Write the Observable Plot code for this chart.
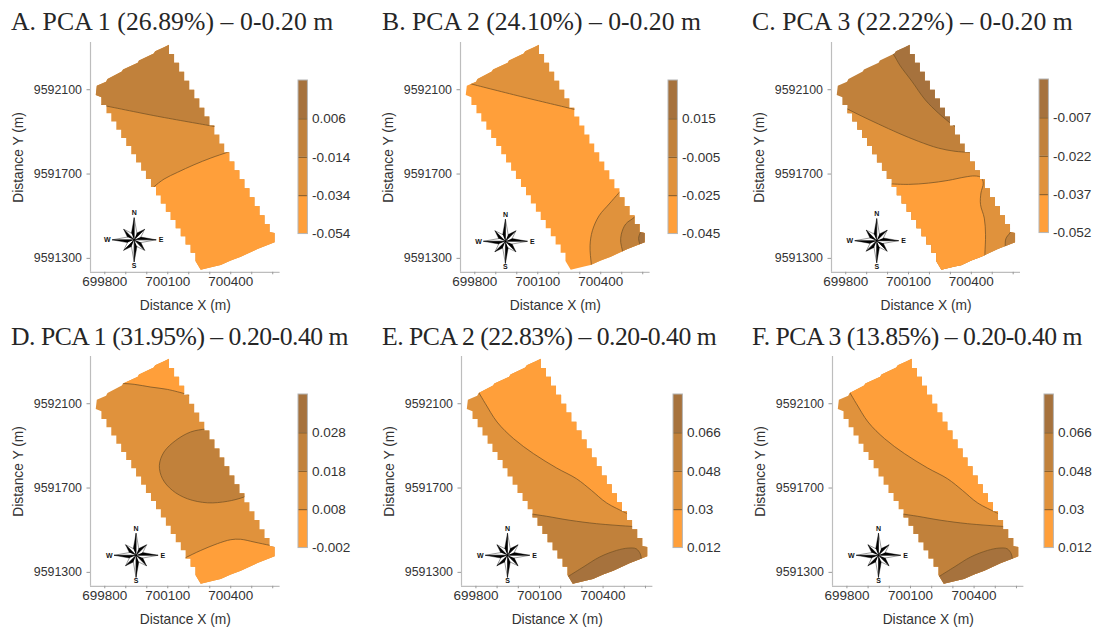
<!DOCTYPE html>
<html>
<head>
<meta charset="utf-8">
<script src="https://cdn.jsdelivr.net/npm/d3@7"></script>
<script src="https://cdn.jsdelivr.net/npm/@observablehq/plot@0.6"></script>
<style>
html,body{margin:0;padding:0;background:#fff}
#chart{position:relative;width:1094px;height:630px;overflow:hidden}
.ttl{position:absolute;font-family:"Liberation Serif",serif;font-size:25.7px;line-height:1;color:#262626;white-space:nowrap}
</style>
</head>
<body>
<div id="chart"></div>
<script>
const bandColors = ["#ff9f3a","#e0923c","#c1813b","#a6723d"];
const contourColor = "#7a5527";
const xDomain = [699732, 700635];
const yDomain = [9591234, 9592324];
const xTicks = [699800,699900,700000,700100,700200,700300,700400,700500,700600];
const xLabels = [699800,700100,700400];
const yTicks = [9591300,9591700,9592100];

const fieldOutline = [
[699762,9592119],[699806,9592138],[699813,9592151],[699881,9592186],[699887,9592196],[699957,9592228],[699963,9592239],[700033,9592272],[700040,9592283],[700082,9592301],[700106,9592313],
[700106,9592270],[700130,9592270],[700130,9592228],[700154,9592228],[700154,9592185],[700178,9592185],[700178,9592143],[700202,9592143],[700202,9592100],[700226,9592100],[700226,9592058],[700250,9592058],[700250,9592015],[700274,9592015],[700274,9591973],[700298,9591973],[700298,9591930],[700322,9591930],[700322,9591888],[700346,9591888],[700346,9591845],[700369,9591845],[700369,9591803],[700393,9591803],[700393,9591760],[700417,9591760],[700417,9591718],[700441,9591718],[700441,9591675],[700465,9591675],[700465,9591633],[700489,9591633],[700489,9591590],[700513,9591590],[700513,9591548],[700537,9591548],[700537,9591505],[700561,9591505],[700561,9591463],[700585,9591463],[700585,9591425],[700609,9591420],
[700609,9591376],[700527,9591344],[700448,9591308],[700400,9591290],[700352,9591268],[700321,9591262],[700257,9591246],
[700232,9591288],[700232,9591327],[700209,9591327],[700209,9591366],[700185,9591366],[700185,9591405],[700162,9591405],[700162,9591443],[700138,9591443],[700138,9591482],[700114,9591482],[700114,9591521],[700091,9591521],[700091,9591560],[700067,9591560],[700067,9591599],[700044,9591599],[700044,9591638],[700020,9591638],[700020,9591677],[699996,9591677],[699996,9591716],[699973,9591716],[699973,9591755],[699949,9591755],[699949,9591794],[699926,9591794],[699926,9591833],[699902,9591833],[699902,9591871],[699878,9591871],[699878,9591910],[699855,9591910],[699855,9591949],[699831,9591949],[699831,9591988],[699808,9591988],[699808,9592027],[699784,9592027],
[699784,9592064],[699757,9592075]
];

// contour lines, west to east or north to south
const a1 = [[699765,9592030],[699784,9592027],[700051,9591974],[700309,9591928],[700325,9591925]];
const a2 = [[700019,9591624],[700035,9591640],[700082,9591676],[700146,9591708],[700225,9591744],[700305,9591776],[700384,9591803],[700408,9591811]];
const b1 = [[699765,9592132],[699784,9592127],[700035,9592064],[700284,9592004],[700297,9592000]];
const b2 = [[700503,9591629],[700484,9591608],[700440,9591558],[700392,9591502],[700360,9591431],[700349,9591360],[700355,9591273],[700359,9591241]];
const b3 = [[700574,9591510],[700559,9591494],[700519,9591463],[700498,9591415],[700495,9591376],[700503,9591339],[700506,9591313]];
const b4 = [[700593,9591431],[700587,9591419],[700580,9591395],[700586,9591368],[700590,9591355]];
const c1 = [[700013,9592285],[700029,9592266],[700060,9592214],[700116,9592140],[700179,9592053],[700243,9591989],[700306,9591937],[700322,9591926]];
const c2 = [[699783,9592023],[699806,9592010],[699878,9591974],[699957,9591937],[700052,9591894],[700148,9591855],[700243,9591823],[700322,9591808],[700381,9591803],[700401,9591801]];
const c3 = [[699992,9591655],[700005,9591654],[700100,9591651],[700195,9591657],[700290,9591670],[700370,9591686],[700417,9591691],[700446,9591684],[700457,9591657],[700446,9591610],[700444,9591555],[700462,9591491],[700468,9591412],[700465,9591322],[700465,9591294]];
const c4 = [[700592,9591431],[700584,9591420],[700565,9591393],[700562,9591352],[700562,9591333]];
const d1 = [[699860,9592195],[699884,9592196],[699940,9592192],[700019,9592179],[700098,9592168],[700186,9592146],[700202,9592141]];
const d2 = [[700305,9591981],[700281,9591980],[700209,9591966],[700138,9591926],[700082,9591871],[700060,9591808],[700075,9591744],[700122,9591689],[700194,9591649],[700289,9591630],[700384,9591637],[700459,9591656],[700479,9591665]];
const d3 = [[700162,9591357],[700186,9591370],[700257,9591404],[700336,9591436],[700400,9591455],[700447,9591457],[700511,9591444],[700587,9591428],[700614,9591423]];
const e1 = [[699802,9592171],[699814,9592152],[699845,9592100],[699900,9592013],[699978,9591934],[700072,9591863],[700181,9591795],[700275,9591744],[700345,9591689],[700416,9591630],[700506,9591583],[700525,9591574]];
const e2 = [[700041,9591583],[700059,9591578],[700134,9591566],[700244,9591547],[700369,9591531],[700536,9591518],[700556,9591517]];
const e3 = [[700228,9591276],[700239,9591283],[700306,9591325],[700384,9591373],[700463,9591404],[700517,9591415],[700556,9591412],[700575,9591389],[700580,9591368],[700584,9591341]];

const panels = [
 {title:"A. PCA 1 (26.89%) – 0-0.20 m", ls:0.07, tx:11, ty:8.5, left:89.7, right:279.3, bottom:272, rose:[699940,9591388], base:1,
  bands:[{level:2,line:a1,corners:[[700800,9591900],[700800,9592500],[699600,9592500]]},
         {level:0,line:a2,corners:[[700800,9591100],[699900,9591100]]}],
  lx:298.3, ly:80, breaks:[-0.054,-0.034,-0.014,0.006,0.026]},
 {title:"B. PCA 2 (24.10%) – 0-0.20 m", ls:0, tx:382, ty:8.5, left:459.7, right:649.3, bottom:272, rose:[699946,9591381], base:0,
  bands:[{level:1,line:b1,corners:[[700800,9591950],[700800,9592500],[699600,9592500]]},
         {level:1,line:b2,corners:[[700800,9591100],[700800,9591700]]},
         {level:2,line:b3,corners:[[700800,9591100],[700800,9591600]]},
         {level:3,line:b4,corners:[[700800,9591300],[700800,9591500]]}],
  lx:668.3, ly:80, breaks:[-0.045,-0.025,-0.005,0.015,0.035]},
 {title:"C. PCA 3 (22.22%) – 0-0.20 m", ls:0.07, tx:752, ty:8.5, left:831, right:1020, bottom:272, rose:[699948,9591384], base:2,
  bands:[{level:3,line:c1,corners:[[700800,9591926],[700800,9592500],[700013,9592500]]},
         {level:1,line:c2,corners:[[700800,9591801],[700800,9591100],[699600,9591100],[699600,9592023]]},
         {level:0,line:c3,corners:[[700465,9591100],[699700,9591100],[699700,9591655]]},
         {level:2,line:c4,corners:[[700800,9591333],[700800,9591431]]}],
  lx:1039.3, ly:79.3, breaks:[-0.052,-0.037,-0.022,-0.007,0.008]},
 {title:"D. PCA 1 (31.95%) – 0.20-0.40 m", ls:-0.5, tx:11, ty:323.5, left:89.7, right:279.3, bottom:585.7, rose:[699949,9591381], base:1,
  bands:[{level:0,line:d1,corners:[[700300,9592500],[699800,9592500]]},
         {level:2,line:d2,corners:[[700800,9591665],[700800,9591981]]},
         {level:0,line:d3,corners:[[700800,9591423],[700800,9591100],[700162,9591100]]}],
  lx:298.3, ly:394, breaks:[-0.002,0.008,0.018,0.028,0.038]},
 {title:"E. PCA 2 (22.83%) – 0.20-0.40 m", ls:-0.5, tx:382, ty:323.5, left:461.3, right:652.7, bottom:585.7, rose:[699949,9591381], base:1,
  bands:[{level:0,line:e1,corners:[[700800,9591574],[700800,9592500],[699802,9592500]]},
         {level:2,line:e2,corners:[[700800,9591517],[700800,9591100],[700041,9591100]]},
         {level:3,line:e3,corners:[[700584,9591100],[700228,9591100]]}],
  lx:672.7, ly:394, breaks:[0.012,0.03,0.048,0.066,0.084]},
 {title:"F. PCA 3 (13.85%) – 0.20-0.40 m", ls:-0.52, tx:752, ty:323.5, left:832.3, right:1023.7, bottom:585.7, rose:[699949,9591381], base:1,
  bands:[{level:0,line:e1,corners:[[700800,9591574],[700800,9592500],[699802,9592500]]},
         {level:2,line:e2,corners:[[700800,9591517],[700800,9591100],[700041,9591100]]},
         {level:3,line:e3,corners:[[700584,9591100],[700228,9591100]]}],
  lx:1043.7, ly:394, breaks:[0.012,0.03,0.048,0.066,0.084]}
];

// compass rose: offsets in metres from its centre
const roseTips = [[0,105],[50,50],[105,0],[50,-50],[0,-105],[-50,-50],[-105,0],[-50,50]];
const roseWaists = [[13,32],[32,13],[32,-13],[13,-32],[-13,-32],[-32,-13],[-32,13],[-13,32]];
const roseLetters = [{t:"N",dx:0,dy:128},{t:"E",dx:128,dy:0},{t:"S",dx:0,dy:-122},{t:"W",dx:-128,dy:0}];

const colorScale = {type:"ordinal", domain:[0,1,2,3], range:bandColors};
const font = "'Liberation Sans',Arial,sans-serif";
const chart = document.getElementById("chart");
const plotH = 229.8, mT = 10, mB = 42, mL = 90, mR = 6;

panels.forEach((p,pi) => {
  const t = document.createElement("div");
  t.className = "ttl"; t.textContent = p.title;
  t.style.left = p.tx+"px"; t.style.top = p.ty+"px"; t.style.letterSpacing = p.ls+"px";
  chart.appendChild(t);

  const baseRegion = fieldOutline.map(([x,y]) => ({level:p.base,x,y}));
  const regions = [];
  p.bands.forEach((b,i) => b.line.concat(b.corners).forEach(([x,y]) => regions.push({r:"b"+i,level:b.level,x,y})));
  const contours = [];
  p.bands.forEach((b,i) => b.line.forEach(([x,y]) => contours.push({r:"c"+i,x,y})));

  const rose = [];
  roseTips.forEach((tip,i) => {
    const w1 = roseWaists[i], w0 = roseWaists[(i+7)%8];
    [[0,0],tip,w0].forEach(([a,b]) => rose.push({k:"k"+i,x:p.rose[0]+a,y:p.rose[1]+b}));
    [[0,0],tip,w1].forEach(([a,b]) => rose.push({k:"w"+i,x:p.rose[0]+a,y:p.rose[1]+b}));
  });
  const letters = roseLetters.map(l => ({t:l.t,x:p.rose[0]+l.dx,y:p.rose[1]+l.dy}));

  const w = p.right-p.left;
  const svg = Plot.plot({
    width: mL+w+mR, height: mT+plotH+mB,
    marginLeft: mL, marginRight: mR, marginTop: mT, marginBottom: mB,
    style: {fontFamily: font, background:"transparent", overflow:"visible"},
    x: {domain:xDomain, axis:null},
    y: {domain:yDomain, axis:null},
    color: colorScale,
    marks: [
      Plot.line(baseRegion,{x:"x",y:"y",fill:"level",stroke:null}),
      Plot.line(regions,{x:"x",y:"y",z:"r",fill:"level",stroke:null,curve:"catmull-rom"}),
      Plot.line(contours,{x:"x",y:"y",z:"r",stroke:contourColor,strokeWidth:0.8,curve:"catmull-rom"}),
      Plot.line(rose.filter(d=>d.k[0]==="w"),{x:"x",y:"y",z:"k",fill:"#fff",stroke:"#000",strokeWidth:0.4}),
      Plot.line(rose.filter(d=>d.k[0]==="k"),{x:"x",y:"y",z:"k",fill:"#000",stroke:"#000",strokeWidth:0.4}),
      Plot.text(letters,{x:"x",y:"y",text:"t",fontSize:7,fontWeight:"bold",fill:"#111"}),
      Plot.ruleX([xDomain[0]],{stroke:"#bdbdbd",strokeWidth:1.2}),
      Plot.ruleY([yDomain[0]],{stroke:"#bdbdbd",strokeWidth:1.2}),
      Plot.axisX({ticks:xTicks,tickFormat:d=>xLabels.includes(d)?String(d):"",label:null,tickSize:2.5,tickPadding:2,fontSize:13.5,stroke:"#999",fill:"#333"}),
      Plot.axisX({ticks:[],label:"Distance X (m)",labelAnchor:"center",labelArrow:"none",labelOffset:38,fontSize:13.8,fill:"#333"}),
      Plot.axisY({ticks:yTicks,tickFormat:d=>String(d),label:null,tickSize:3.5,tickPadding:5,fontSize:12.4,stroke:"#999",fill:"#333"}),
      Plot.axisY({ticks:[],label:"Distance Y (m)",labelAnchor:"center",labelArrow:"none",labelOffset:77,fontSize:13.8,fill:"#333"})
    ]
  });
  // confine the coloured bands and contour lines to the field outline
  const lineGroups = svg.querySelectorAll('g[aria-label="line"]');
  const fieldPath = lineGroups[0].querySelector("path").getAttribute("d");
  const ns = "http://www.w3.org/2000/svg";
  const cp = document.createElementNS(ns,"clipPath");
  cp.setAttribute("id","field"+pi);
  const cpp = document.createElementNS(ns,"path");
  cpp.setAttribute("d",fieldPath);
  cp.appendChild(cpp);
  svg.insertBefore(cp,svg.firstChild);
  lineGroups[1].setAttribute("clip-path",`url(#field${pi})`);
  lineGroups[2].setAttribute("clip-path",`url(#field${pi})`);
  Object.assign(svg.style,{position:"absolute",left:(p.left-mL)+"px",top:(p.bottom-plotH-mT)+"px"});
  chart.appendChild(svg);

  // colour key
  const barW = 9.4, barH = 153.6, lmT = 8, lmB = 10, lmR = 50;
  const br = p.breaks;
  const rects = br.slice(0,4).map((v,i)=>({y1:v,y2:br[i+1],level:i}));
  const key = Plot.plot({
    width: barW+lmR, height: barH+lmT+lmB,
    marginLeft:0, marginRight:lmR, marginTop:lmT, marginBottom:lmB,
    style:{fontFamily:font, background:"transparent", overflow:"visible"},
    x:{domain:[0,1],axis:null},
    y:{domain:[br[0],br[4]],axis:null},
    color:colorScale,
    marks:[
      Plot.rectY(rects,{x1:0,x2:1,y1:"y1",y2:"y2",fill:"level"}),
      Plot.ruleY(br.slice(1,4),{x1:0,x2:1,stroke:contourColor,strokeWidth:1}),
      Plot.rect([{}],{x1:0,x2:1,y1:br[0],y2:br[4],stroke:"#b5b5b5",strokeWidth:1,fill:"none"}),
      Plot.axisY({anchor:"right",ticks:br.slice(0,4),tickFormat:d=>String(d),tickSize:0,tickPadding:4,label:null,fontSize:13.6,fill:"#333"})
    ]
  });
  Object.assign(key.style,{position:"absolute",left:p.lx+"px",top:(p.ly-lmT)+"px"});
  chart.appendChild(key);
});
</script>
</body>
</html>
